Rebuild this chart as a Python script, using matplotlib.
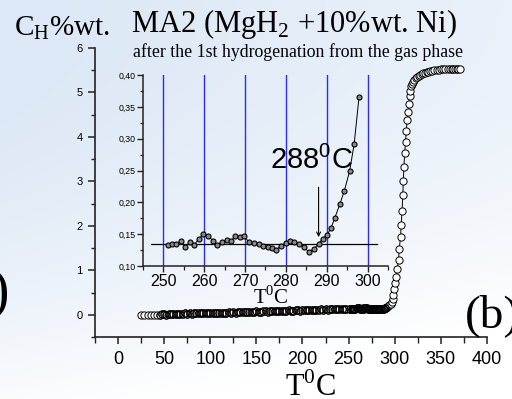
import numpy as np
import matplotlib
matplotlib.use("Agg")
import matplotlib.pyplot as plt
from matplotlib.ticker import MultipleLocator, FuncFormatter

plt.rcParams['mathtext.fontset'] = 'custom'
plt.rcParams['mathtext.rm'] = 'Liberation Serif'
plt.rcParams['mathtext.sf'] = 'Liberation Sans'
plt.rcParams['font.family'] = ['Liberation Sans', 'DejaVu Sans']

# ---- data ----
# start of the run, separate circles
start_t = [25.0, 28.5, 32.0, 35.5, 39.0, 42.5]
start_v = [0.00, 0.00, 0.00, 0.00, 0.00, 0.00]

# dense flat part, 45..247.5 every 2.5 deg
base_t = np.arange(45.0, 250.0, 2.5)
base_v = [0.00, 0.01, 0.01, 0.00, 0.01, 0.02, 0.01, 0.02, 0.01, 0.02, 0.02,
          0.03, 0.02, 0.03, 0.02, 0.03, 0.04, 0.03, 0.03, 0.04, 0.03,
          0.04, 0.04, 0.05, 0.04, 0.04, 0.05, 0.05, 0.04, 0.05, 0.06,
          0.05, 0.06, 0.05, 0.06, 0.07, 0.06, 0.06, 0.07, 0.06, 0.07,
          0.07, 0.08, 0.07, 0.07, 0.08, 0.08, 0.07, 0.08, 0.09, 0.08,
          0.08, 0.09, 0.09, 0.08, 0.09, 0.10, 0.09, 0.09, 0.10, 0.10,
          0.09, 0.10, 0.11, 0.10, 0.10, 0.11, 0.11, 0.10, 0.11, 0.12,
          0.11, 0.12, 0.11, 0.12, 0.13, 0.12, 0.12, 0.13, 0.12, 0.13,
          0.13]

# zoomed region (inset)
inset_t = [251.0, 252.0, 253.2, 254.3, 255.3, 256.4, 257.5, 258.6, 259.8,
           261.0, 262.1, 263.2, 264.4, 265.5, 266.6, 267.5, 268.7, 269.8,
           271.0, 272.1, 273.3, 274.4, 275.5, 276.6, 277.6, 278.8, 279.9,
           281.0, 282.1, 283.3, 284.4, 285.6, 286.9, 288.0, 289.0, 290.0,
           291.0, 292.0, 293.2, 294.3, 295.6, 296.7, 297.9]
inset_v = [0.133, 0.134, 0.134, 0.140, 0.130, 0.137, 0.133, 0.142, 0.150,
           0.147, 0.140, 0.133, 0.138, 0.141, 0.139, 0.147, 0.146, 0.147,
           0.137, 0.136, 0.134, 0.131, 0.130, 0.128, 0.125, 0.132, 0.136,
           0.139, 0.137, 0.134, 0.130, 0.122, 0.127, 0.135, 0.143, 0.148,
           0.159, 0.176, 0.197, 0.218, 0.249, 0.291, 0.365]

# steep rise and plateau
rise_t = [298.5, 299.2, 300.3, 301.4, 302.8, 304.2, 304.9, 306.4, 307.0,
          308.0, 308.8, 309.3, 310.0, 310.8, 311.8, 312.5, 313.6, 314.7,
          315.4, 316.2, 316.9, 318.0, 319.0, 320.1, 321.4, 322.7, 324.5,
          326.0, 327.4, 329.2, 331.0, 332.8, 334.6, 336.4, 338.2, 340.6,
          343.0, 345.4, 347.8, 350.2, 352.6, 355.0, 357.5, 359.9, 361.7,
          363.5, 365.3, 367.1, 368.9, 370.7]
rise_v = [0.45, 0.58, 0.71, 0.86, 1.03, 1.24, 1.48, 1.75, 2.02,
          2.34, 2.70, 3.00, 3.33, 3.63, 3.89, 4.14, 4.37, 4.57,
          4.74, 4.91, 5.04, 5.15, 5.20, 5.24, 5.28, 5.32, 5.35,
          5.37, 5.39, 5.41, 5.43, 5.44, 5.45, 5.47, 5.48, 5.49,
          5.50, 5.51, 5.51, 5.52, 5.52, 5.52, 5.53, 5.53, 5.53,
          5.53, 5.53, 5.53, 5.52, 5.52]

main_t = np.concatenate([start_t, base_t, inset_t, rise_t])
main_v = np.concatenate([start_v, base_v, inset_v, rise_v])

inset_vlines = [250, 260, 270, 280, 290, 300]
baseline_level = 0.134
onset_t = 288

serif = 'Liberation Serif'

fig = plt.figure(figsize=(5.12, 3.99), dpi=100)

# soft bluish background
bg = fig.add_axes([0, 0, 1, 1], zorder=-10)
yy, xx = np.mgrid[0:1:200j, 0:1:256j]
w = np.clip(1.05 - 0.45 * xx - 0.9 * yy ** 2, 0, 1) * 0.9
blue = np.array([0.85, 0.90, 0.96])
img = (1 - w[..., None]) * 1.0 + w[..., None] * blue
bg.imshow(img, extent=[0, 1, 0, 1], aspect='auto', origin='upper')
bg.axis('off')

# main axes
ax = fig.add_axes([0.1855, 0.1554, 0.7655, 0.7243])
ax.set_facecolor('none')
ax.plot(main_t, main_v, '-o', color='k', lw=0.7, ms=5.2, mfc='white',
        mec='k', mew=0.7)
# the densely sampled stretch reads as a dark band of overlapping rings
dense_t = np.concatenate([base_t, inset_t[:36]])
dense_v = np.concatenate([base_v, inset_v[:36]])
ax.plot(dense_t, dense_v, 'o', ms=5.2, mfc='none', mec='k', mew=0.7)
ax.set_xlim(-25, 400)
ax.set_ylim(-0.5, 6)
ax.xaxis.set_major_locator(MultipleLocator(50))
ax.xaxis.set_minor_locator(MultipleLocator(25))
ax.yaxis.set_major_locator(MultipleLocator(1))
ax.yaxis.set_minor_locator(MultipleLocator(0.5))
for s in ['top', 'right']:
    ax.spines[s].set_visible(False)
for s in ['left', 'bottom']:
    ax.spines[s].set_color('#222222')
    ax.spines[s].set_linewidth(1.2)
ax.tick_params(axis='y', which='major', labelsize=8, length=5, width=1.1,
               pad=4, color='#222222')
ax.tick_params(axis='y', which='minor', length=3, width=1.0, color='#222222')
ax.tick_params(axis='x', which='major', labelsize=13, length=5, width=1.1,
               pad=5, color='#222222')
ax.tick_params(axis='x', which='minor', length=4, width=1.0, color='#222222')

# inset
ai = fig.add_axes([0.2793, 0.3333, 0.4785, 0.4787])
ai.set_facecolor('none')
for xv in inset_vlines:
    ai.axvline(xv, color='#2a2aff', lw=1.0, zorder=1)
ai.plot([247, 302.2], [baseline_level, baseline_level], color='k', lw=0.9,
        zorder=2)
ai.plot(inset_t, inset_v, '-o', color='k', lw=0.7, ms=3.6, mfc='#8a8a8a',
        mec='k', mew=0.8, zorder=3)
ai.annotate('', xy=(onset_t, 0.141), xytext=(onset_t, 0.228),
            arrowprops=dict(arrowstyle='->', color='k', lw=0.8,
                            mutation_scale=7), zorder=4)
ai.text(276.0, 0.253, r'$\mathsf{288^0C}$', fontsize=21, va='baseline',
        ha='left', zorder=5)
ai.set_xlim(245, 305)
ai.set_ylim(0.10, 0.40)
ai.xaxis.set_major_locator(MultipleLocator(10))
ai.xaxis.set_minor_locator(MultipleLocator(5))
ai.yaxis.set_major_locator(MultipleLocator(0.05))
ai.yaxis.set_minor_locator(MultipleLocator(0.025))
ai.yaxis.set_major_formatter(FuncFormatter(lambda v, p: f"{v:.2f}".replace('.', ',')))
for s in ['top', 'right']:
    ai.spines[s].set_visible(False)
for s in ['left', 'bottom']:
    ai.spines[s].set_color('#222222')
    ai.spines[s].set_linewidth(1.1)
ai.tick_params(axis='y', which='major', labelsize=6.3, length=4, width=1.0,
               pad=1, color='#222222')
ai.tick_params(axis='y', which='minor', length=2.5, width=0.9, color='#222222')
ai.tick_params(axis='x', which='major', labelsize=11.5, length=4, width=1.0,
               pad=2, color='#222222')
ai.tick_params(axis='x', which='minor', length=3, width=0.9, color='#222222')
fig.text(253 / 512, 1 - 304 / 399, r'T$^0$C', fontsize=15, family=serif,
         va='baseline', ha='left')

# titles and labels
fig.text(14 / 512, 1 - 35 / 399, r'C$_\mathrm{H}$%wt.', fontsize=21,
         family=serif, va='baseline', ha='left')
fig.text(131 / 512, 1 - 32 / 399, r'MA2 (MgH$_2$ +10%wt. Ni)', fontsize=22,
         family=serif, va='baseline', ha='left')
fig.text(133 / 512, 1 - 57 / 399,
         'after the 1st hydrogenation from the gas phase', fontsize=12.8,
         family=serif, va='baseline', ha='left')
fig.text(285 / 512, 1 - 396 / 399, r'T$^0$C', fontsize=22, family=serif,
         va='baseline', ha='left')
fig.text(465 / 512, 1 - 327 / 399, '(b)', fontsize=34, family=serif,
         va='baseline', ha='left')
fig.text(9 / 512, 1 - 308 / 399, ')', fontsize=40, family=serif,
         va='baseline', ha='right')

fig.savefig('out.png', dpi=100)
